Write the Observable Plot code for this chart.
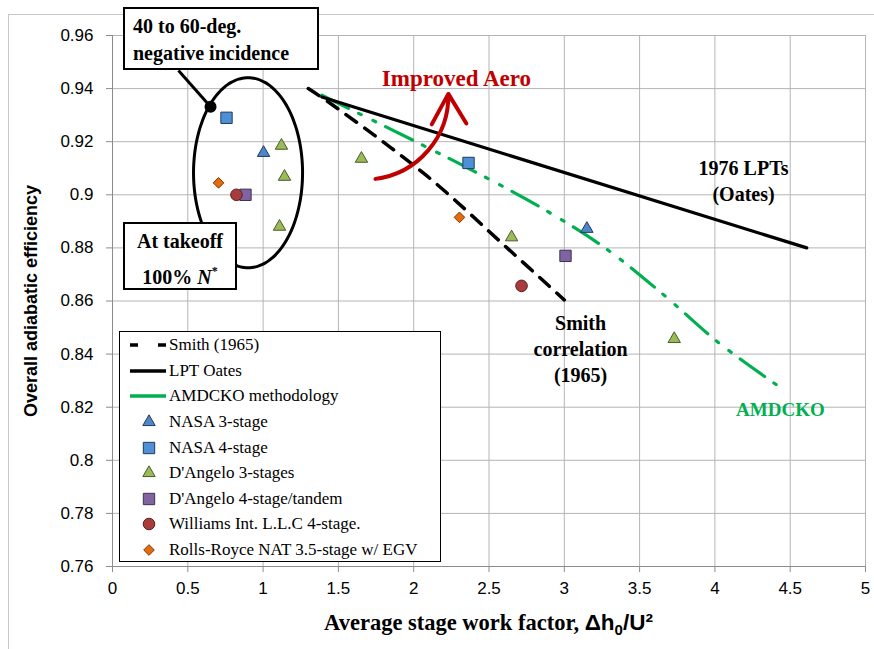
<!DOCTYPE html>
<html><head><meta charset="utf-8">
<script src="https://cdn.jsdelivr.net/npm/d3@7"></script>
<script src="https://cdn.jsdelivr.net/npm/@observablehq/plot@0.6"></script>
<style>
body{margin:0;background:#fff;}
#wrap{position:relative;width:874px;height:649px;overflow:hidden;background:#fff;}
#border{position:absolute;left:8px;top:14px;width:900px;height:700px;border:1px solid #c8c8c8;}
#wrap > svg{position:absolute;left:0;top:0;}
g[aria-label="y-axis label"] text{font-weight:bold;font-size:18px;}
.box{position:absolute;background:#fff;border:2px solid #000;box-sizing:border-box;font-family:"Liberation Serif","Times New Roman",serif;font-weight:bold;font-size:20px;color:#000;white-space:nowrap;}
#legend{position:absolute;background:#fff;border:1px solid #000;box-sizing:border-box;font-family:"Liberation Serif","Times New Roman",serif;font-size:17px;color:#000;padding-top:1px;}
#legend .row{display:flex;align-items:center;height:25.6px;white-space:nowrap;}
#legend svg{position:static;flex:none;}
#xlabel{position:absolute;white-space:nowrap;font-weight:bold;font-size:22.5px;line-height:26px;transform:translateX(-50%);color:#000;}
#xlabel .a{font-family:"Liberation Serif","Times New Roman",serif;}
#xlabel .b{font-family:"Liberation Sans",Arial,sans-serif;}
</style></head><body>
<div id="wrap"><div id="border"></div></div>
<script>
// ---- tick labels ----
const xTicks = [0, 0.5, 1, 1.5, 2, 2.5, 3, 3.5, 4, 4.5, 5];
const yTicks = [0.76, 0.78, 0.8, 0.82, 0.84, 0.86, 0.88, 0.9, 0.92, 0.94, 0.96];
const xLabelParts = ["Average stage work factor, ", "Δh", "0", "/U²"];
const yLabel = "Overall adiabatic efficiency";

// ---- correlation lines ----
const smithX = [1.3, 1.45, 2.09, 2.62, 3.0];
const smithY = [0.94, 0.9343, 0.907, 0.88, 0.8604];
const oatesX = [1.39, 4.61];
const oatesY = [0.9368, 0.88];
const amdckoX = [1.39, 2.0, 2.43, 2.86, 3.27, 3.66, 4.02, 4.42];
const amdckoY = [0.9375, 0.9204, 0.908, 0.8947, 0.88, 0.8623, 0.8445, 0.828];

// ---- test points ----
const nasa3X = [1.003, 3.15],  nasa3Y = [0.9158, 0.8872];
const nasa4X = [0.757, 2.364], nasa4Y = [0.929, 0.912];
const dang3X = [1.122, 1.142, 1.109, 1.653, 2.65, 3.73];
const dang3Y = [0.9185, 0.9068, 0.888, 0.9136, 0.884, 0.8457];
const dang4X = [0.883, 3.008], dang4Y = [0.9, 0.877];
const willX  = [0.823, 2.716], willY  = [0.9, 0.8657];
const rrX    = [0.704, 2.304], rrY    = [0.9045, 0.8915];

// ---- series / legend ----
const seriesNames = ["NASA 3-stage", "NASA 4-stage", "D'Angelo 3-stages", "D'Angelo 4-stage/tandem", "Williams Int. L.L.C 4-stage.", "Rolls-Royce NAT 3.5-stage w/ EGV"];
const seriesSymbols = ["triangle", "square", "triangle", "square", "circle", "diamond2"];
const seriesFill = ["#4f86c6", "#4f8fd6", "#9bbb59", "#8064a2", "#a83c3c", "#e46c0a"];
const seriesStroke = ["#1f3a5f", "#1f3a5f", "#4a5a2a", "#3f3150", "#5a1e1e", "#7a3a05"];
const seriesR = [4.6, 6.4, 4.6, 6.4, 5.8, 4.8];
const lineNames = ["Smith (1965)", "LPT Oates", "AMDCKO methodology"];
const lineColors = ["#000000", "#000000", "#00b050"];

// ---- annotations ----
const ellipseC = [0.9, 0.9083];   // centre (x, y)
const ellipseR = [0.362, 0.0358]; // radii (x, y)
const leader = [0.651, 0.9332, 0.438, 0.9468]; // dot on ellipse -> box
const aeroArrow = [1.746, 0.906, 2.23, 0.938];
const textNotes = [
  {text: "Improved Aero", x: 2.284, y: 0.9445, color: "#c00000", size: 23},
  {text: "1976 LPTs\n(Oates)", x: 4.19, y: 0.9058, color: "#000", size: 20},
  {text: "Smith\ncorrelation\n(1965)", x: 3.108, y: 0.8426, color: "#000", size: 20},
  {text: "AMDCKO", x: 4.435, y: 0.8198, color: "#00b050", size: 19}
];
const boxNotes = [
  {html: "40 to 60-deg.<br>negative incidence", x: 0.073, y: 0.9706, w: 196, h: 63, align: "left", lh: 27},
  {html: "At takeoff<br>100% <i>N</i><sup style='font-size:12px;vertical-align:9px'>*</sup>", x: 0.073, y: 0.8894, w: 114, h: 68, align: "center", lh: 30}
];
const legendAt = [0.0465, 0.8487];

// build tables
const pts = [];
[[nasa3X, nasa3Y], [nasa4X, nasa4Y], [dang3X, dang3Y], [dang4X, dang4Y], [willX, willY], [rrX, rrY]]
  .forEach(([xs, ys], i) => xs.forEach((x, j) => pts.push({x, y: ys[j], s: i})));
const smith = smithX.map((x, i) => ({x, y: smithY[i]}));
const oates = oatesX.map((x, i) => ({x, y: oatesY[i]}));
const amdcko = amdckoX.map((x, i) => ({x, y: amdckoY[i]}));
const ell = d3.range(0, 361, 4).map(a => ({x: ellipseC[0] + ellipseR[0] * Math.cos(a * Math.PI / 180), y: ellipseC[1] + ellipseR[1] * Math.sin(a * Math.PI / 180)}));

const serif = "Liberation Serif, Times New Roman, serif";
const marks = [
  Plot.gridX(xTicks, {stroke: "#b4b4b4", strokeOpacity: 1}),
  Plot.gridY(yTicks, {stroke: "#b4b4b4", strokeOpacity: 1}),
  Plot.ruleX([0], {stroke: "#8c8c8c"}),
  Plot.ruleY([0.76], {stroke: "#8c8c8c"}),
  Plot.axisX({ticks: xTicks, tickSize: 6, tickPadding: 9, stroke: "#8c8c8c", fill: "#000", tickFormat: d => String(d),
    label: null, fontSize: 17}),
  Plot.axisY({ticks: yTicks, tickSize: 6, tickPadding: 13, stroke: "#8c8c8c", fill: "#000", tickFormat: d => String(+d.toFixed(2)),
    label: yLabel, labelAnchor: "center", labelArrow: "none", labelOffset: 88, fontSize: 17}),
  Plot.line(amdcko, {x: "x", y: "y", stroke: lineColors[2], strokeWidth: 3.2, strokeDasharray: "30,11,3,13,3,11", curve: "catmull-rom"}),
  Plot.line(smith, {x: "x", y: "y", stroke: lineColors[0], strokeWidth: 3.5, strokeDasharray: "13,10", curve: "catmull-rom"}),
  Plot.line(oates, {x: "x", y: "y", stroke: lineColors[1], strokeWidth: 3.2}),
  Plot.line(ell, {x: "x", y: "y", stroke: "#000", strokeWidth: 3, curve: "catmull-rom-closed"}),
  Plot.link([leader], {x1: d => d[0], y1: d => d[1], x2: d => d[2], y2: d => d[3], stroke: "#000", strokeWidth: 3}),
  Plot.dot([leader], {x: d => d[0], y: d => d[1], r: 6, fill: "#000"}),
  Plot.dot(pts, {x: "x", y: "y", symbol: d => seriesSymbols[d.s], r: d => seriesR[d.s],
    fill: d => seriesFill[d.s], stroke: d => seriesStroke[d.s], strokeWidth: 1}),
  Plot.arrow([aeroArrow], {x1: d => d[0], y1: d => d[1], x2: d => d[2], y2: d => d[3], bend: -42,
    stroke: "#c00000", strokeWidth: 4, headLength: 13}),
  Plot.text(textNotes, {x: "x", y: "y", text: "text", fill: d => d.color, fontSize: d => d.size,
    fontFamily: serif, fontWeight: "bold", lineHeight: 1.3})
];

const plot = Plot.plot({
  width: 874, height: 649,
  marginLeft: 112, marginRight: 9, marginTop: 35, marginBottom: 83,
  x: {domain: [0, 5]},
  y: {domain: [0.76, 0.96]},
  r: {type: "identity"},
  symbol: {type: "identity"},
  style: {fontFamily: "Liberation Sans, Arial, sans-serif", fontSize: "17px", background: "transparent", overflow: "visible"},
  marks
});
const wrap = document.getElementById("wrap");
wrap.appendChild(plot);

const sx = plot.scale("x"), sy = plot.scale("y");

// x-axis label (mixed fonts)
const xl = document.createElement("div");
xl.id = "xlabel";
xl.innerHTML = `<span class="a">${xLabelParts[0]}</span><span class="b">${xLabelParts[1]}<sub style="font-size:15px;vertical-align:-5px">${xLabelParts[2]}</sub>${xLabelParts[3]}</span>`;
Object.assign(xl.style, {left: ((sx.apply(xTicks[0]) + sx.apply(xTicks[xTicks.length - 1])) / 2) + "px", top: (sy.apply(yTicks[0]) + 44) + "px"});
wrap.appendChild(xl);

// boxed annotations
boxNotes.forEach(b => {
  const d = document.createElement("div");
  d.className = "box";
  d.innerHTML = b.html;
  Object.assign(d.style, {left: sx.apply(b.x) + "px", top: sy.apply(b.y) + "px", width: b.w + "px", height: b.h + "px",
    textAlign: b.align, lineHeight: b.lh + "px", padding: b.align === "left" ? "4px 8px" : "2px 0"});
  wrap.appendChild(d);
});

// legend
const lg = document.createElement("div");
lg.id = "legend";
Object.assign(lg.style, {left: sx.apply(legendAt[0]) + "px", top: sy.apply(legendAt[1]) + "px", width: "322px", height: "231px"});
const ns = "http://www.w3.org/2000/svg";
function row(drawFn, label) {
  const r = document.createElement("div"); r.className = "row";
  const s = document.createElementNS(ns, "svg"); s.setAttribute("width", 49); s.setAttribute("height", 20);
  drawFn(s);
  const t = document.createElement("span"); t.textContent = label;
  r.appendChild(s); r.appendChild(t); lg.appendChild(r);
}
lineNames.forEach((n, i) => row(s => {
  const l = document.createElementNS(ns, "line");
  l.setAttribute("x1", 10); l.setAttribute("x2", 46); l.setAttribute("y1", 10); l.setAttribute("y2", 10);
  l.setAttribute("stroke", lineColors[i]); l.setAttribute("stroke-width", 3.5);
  if (i === 0) l.setAttribute("stroke-dasharray", "8,20,8");
  s.appendChild(l);
}, n));
seriesNames.forEach((n, i) => row(s => {
  const p = document.createElementNS(ns, "path");
  const symMap = {triangle: d3.symbolTriangle, square: d3.symbolSquare, circle: d3.symbolCircle, diamond2: d3.symbolDiamond2};
  p.setAttribute("d", d3.symbol(symMap[seriesSymbols[i]], Math.PI * seriesR[i] * seriesR[i])());
  p.setAttribute("transform", "translate(29,10)");
  p.setAttribute("fill", seriesFill[i]); p.setAttribute("stroke", seriesStroke[i]);
  s.appendChild(p);
}, n));
wrap.appendChild(lg);
</script>
</body></html>
